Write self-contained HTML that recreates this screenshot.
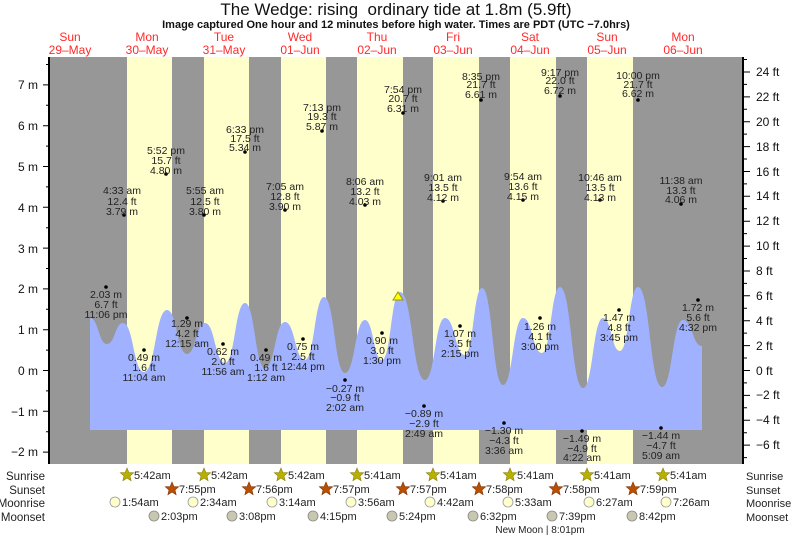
<!DOCTYPE html>
<html><head><meta charset="utf-8"><style>
html,body{margin:0;padding:0;background:#fff;}
svg{display:block;font-family:"Liberation Sans",Arial,sans-serif;}
</style></head><body>
<svg width="793" height="538" viewBox="0 0 793 538" xmlns="http://www.w3.org/2000/svg">
<text x="396" y="15" font-size="17" text-anchor="middle" fill="#111">The Wedge: rising&#160; ordinary tide at 1.8m (5.9ft)</text>
<text x="396" y="28" font-size="11" font-weight="bold" text-anchor="middle" fill="#111">Image captured One hour and 12 minutes before high water. Times are PDT (UTC −7.0hrs)</text>
<g font-size="12" fill="#ff2a2a" text-anchor="middle">
<text x="70" y="41">Sun</text><text x="70" y="54">29–May</text>
<text x="147" y="41">Mon</text><text x="147" y="54">30–May</text>
<text x="224" y="41">Tue</text><text x="224" y="54">31–May</text>
<text x="300" y="41">Wed</text><text x="300" y="54">01–Jun</text>
<text x="377" y="41">Thu</text><text x="377" y="54">02–Jun</text>
<text x="453" y="41">Fri</text><text x="453" y="54">03–Jun</text>
<text x="530" y="41">Sat</text><text x="530" y="54">04–Jun</text>
<text x="607" y="41">Sun</text><text x="607" y="54">05–Jun</text>
<text x="683" y="41">Mon</text><text x="683" y="54">06–Jun</text>
</g>
<rect x="49" y="57" width="694" height="407" fill="#979797"/>
<g fill="#ffffcc">
<rect x="127" y="57" width="45" height="407"/><rect x="204" y="57" width="45" height="407"/>
<rect x="281" y="57" width="45" height="407"/><rect x="357" y="57" width="46" height="407"/>
<rect x="433" y="57" width="46" height="407"/><rect x="510" y="57" width="46" height="407"/>
<rect x="587" y="57" width="46" height="407"/>
</g>
<path fill="#9fb1ff" d="M90,318 C98.5,318 98.5,344 107,344 C115,344 115,323 123,323 C133.5,323 133.5,372 144,372 C155.5,372 155.5,310 167,310 C177,310 177,354 187,354 C196,354 196,323 205,323 C215,323 215,363 225,363 C235,363 235,303 245,303 C255,303 255,368 265,368 C275,368 275,322 285,322 C295,322 295,360 305,360 C314.5,360 314.5,297 324,297 C334.5,297 334.5,373 345,373 C355,373 355,320 365,320 C373.5,320 373.5,360 382,360 C391,360 391,292 400,292 C412.5,292 412.5,380 425,380 C435,380 435,318 445,318 C455,318 455,355 465,355 C473.5,355 473.5,288 482,288 C492.5,288 492.5,385 503,385 C513,385 513,318 523,318 C532.5,318 532.5,353 542,353 C551,353 551,287 560,287 C571.5,287 571.5,388 583,388 C593,388 593,318 603,318 C611.5,318 611.5,351 620,351 C629,351 629,287 638,287 C650,287 650,387 662,387 C672.5,387 672.5,320 683,320 C692.5,320 692.5,346 702,346 L702,430 L90,430 Z"/>
<polygon points="398,292 393,300 403,300" fill="#ffff00" stroke="#999900" stroke-width="1"/>
<g stroke="#000" stroke-width="1" fill="none">
<path d="M49,57 V464" stroke-width="2"/>
<path d="M743,57 V464" stroke-width="2"/>
<path d="M43,84.9H49M43,125.7H49M43,166.5H49M43,207.3H49M43,248.1H49M43,288.9H49M43,329.7H49M43,370.5H49M43,411.3H49M43,452.1H49"/>
<path d="M46,64.5H49M46,105.3H49M46,146.1H49M46,186.9H49M46,227.7H49M46,268.5H49M46,309.3H49M46,350.1H49M46,390.9H49M46,431.7H49"/>
<path d="M743,72H750M743,96.9H750M743,121.7H750M743,146.6H750M743,171.5H750M743,196.3H750M743,221.2H750M743,246.1H750M743,271H750M743,295.8H750M743,320.7H750M743,345.6H750M743,370.5H750M743,395.4H750M743,420.3H750M743,445.1H750"/>
<path d="M743,59.5H747M743,84.4H747M743,109.3H747M743,134.1H747M743,159H747M743,183.9H747M743,208.8H747M743,233.6H747M743,258.5H747M743,283.4H747M743,308.2H747M743,333.1H747M743,358H747M743,382.9H747M743,407.8H747M743,432.7H747M743,457.6H747"/>
</g>
<g font-size="12" fill="#111" text-anchor="end">
<text x="38" y="89">7 m</text><text x="38" y="130">6 m</text><text x="38" y="171">5 m</text><text x="38" y="212">4 m</text><text x="38" y="253">3 m</text><text x="38" y="293">2 m</text><text x="38" y="334">1 m</text><text x="38" y="375">0 m</text><text x="38" y="416">−1 m</text><text x="38" y="456">−2 m</text>
</g>
<g font-size="12" fill="#111">
<text x="756" y="76">24 ft</text><text x="756" y="101">22 ft</text><text x="756" y="126">20 ft</text><text x="756" y="151">18 ft</text><text x="756" y="176">16 ft</text><text x="756" y="200">14 ft</text><text x="756" y="225">12 ft</text><text x="756" y="250">10 ft</text><text x="756" y="275">8 ft</text><text x="756" y="300">6 ft</text><text x="756" y="325">4 ft</text><text x="756" y="350">2 ft</text><text x="756" y="375">0 ft</text><text x="756" y="399">−2 ft</text><text x="756" y="424">−4 ft</text><text x="756" y="449">−6 ft</text>
</g>
<g fill="#000">
<circle cx="106" cy="287" r="1.8"/><circle cx="144" cy="350" r="1.8"/><circle cx="124" cy="215" r="1.8"/><circle cx="166" cy="174" r="1.8"/>
<circle cx="187" cy="318" r="1.8"/><circle cx="204" cy="215" r="1.8"/><circle cx="245" cy="152" r="1.8"/><circle cx="223" cy="344" r="1.8"/>
<circle cx="266" cy="350" r="1.8"/><circle cx="285" cy="210" r="1.8"/><circle cx="322" cy="131" r="1.8"/><circle cx="303" cy="339" r="1.8"/>
<circle cx="345" cy="380" r="1.8"/><circle cx="365" cy="205" r="1.8"/><circle cx="403" cy="113" r="1.8"/><circle cx="382" cy="333" r="1.8"/>
<circle cx="424" cy="406" r="1.8"/><circle cx="443" cy="201" r="1.8"/><circle cx="481" cy="100" r="1.8"/><circle cx="460" cy="326" r="1.8"/>
<circle cx="504" cy="423" r="1.8"/><circle cx="523" cy="200" r="1.8"/><circle cx="560" cy="96" r="1.8"/><circle cx="540" cy="318" r="1.8"/>
<circle cx="582" cy="431" r="1.8"/><circle cx="600" cy="200" r="1.8"/><circle cx="638" cy="100" r="1.8"/><circle cx="619" cy="310" r="1.8"/>
<circle cx="661" cy="428" r="1.8"/><circle cx="681" cy="204" r="1.8"/><circle cx="698" cy="300" r="1.8"/>
</g>
<g font-size="10.5" fill="#222" text-anchor="middle">
<text x="106" y="298">2.03 m<tspan x="106" y="308">6.7 ft</tspan><tspan x="106" y="318">11:06 pm</tspan></text>
<text x="144" y="361">0.49 m<tspan x="144" y="371">1.6 ft</tspan><tspan x="144" y="381">11:04 am</tspan></text>
<text x="122" y="194">4:33 am<tspan x="122" y="205">12.4 ft</tspan><tspan x="122" y="215">3.79 m</tspan></text>
<text x="166" y="154">5:52 pm<tspan x="166" y="164">15.7 ft</tspan><tspan x="166" y="174">4.80 m</tspan></text>
<text x="187" y="327">1.29 m<tspan x="187" y="337">4.2 ft</tspan><tspan x="187" y="347">12:15 am</tspan></text>
<text x="205" y="194">5:55 am<tspan x="205" y="205">12.5 ft</tspan><tspan x="205" y="215">3.80 m</tspan></text>
<text x="245" y="133">6:33 pm<tspan x="245" y="142">17.5 ft</tspan><tspan x="245" y="151">5.34 m</tspan></text>
<text x="223" y="355">0.62 m<tspan x="223" y="365">2.0 ft</tspan><tspan x="223" y="375">11:56 am</tspan></text>
<text x="266" y="361">0.49 m<tspan x="266" y="371">1.6 ft</tspan><tspan x="266" y="381">1:12 am</tspan></text>
<text x="285" y="190">7:05 am<tspan x="285" y="200">12.8 ft</tspan><tspan x="285" y="210">3.90 m</tspan></text>
<text x="322" y="111">7:13 pm<tspan x="322" y="120">19.3 ft</tspan><tspan x="322" y="130">5.87 m</tspan></text>
<text x="303" y="350">0.75 m<tspan x="303" y="360">2.5 ft</tspan><tspan x="303" y="370">12:44 pm</tspan></text>
<text x="345" y="392">−0.27 m<tspan x="345" y="401">−0.9 ft</tspan><tspan x="345" y="411">2:02 am</tspan></text>
<text x="365" y="185">8:06 am<tspan x="365" y="195">13.2 ft</tspan><tspan x="365" y="205">4.03 m</tspan></text>
<text x="403" y="93">7:54 pm<tspan x="403" y="102">20.7 ft</tspan><tspan x="403" y="112">6.31 m</tspan></text>
<text x="382" y="344">0.90 m<tspan x="382" y="354">3.0 ft</tspan><tspan x="382" y="364">1:30 pm</tspan></text>
<text x="424" y="417">−0.89 m<tspan x="424" y="427">−2.9 ft</tspan><tspan x="424" y="437">2:49 am</tspan></text>
<text x="443" y="181">9:01 am<tspan x="443" y="191">13.5 ft</tspan><tspan x="443" y="201">4.12 m</tspan></text>
<text x="481" y="80">8:35 pm<tspan x="481" y="88">21.7 ft</tspan><tspan x="481" y="98">6.61 m</tspan></text>
<text x="460" y="337">1.07 m<tspan x="460" y="347">3.5 ft</tspan><tspan x="460" y="357">2:15 pm</tspan></text>
<text x="504" y="434">−1.30 m<tspan x="504" y="444">−4.3 ft</tspan><tspan x="504" y="454">3:36 am</tspan></text>
<text x="523" y="180">9:54 am<tspan x="523" y="190">13.6 ft</tspan><tspan x="523" y="200">4.15 m</tspan></text>
<text x="560" y="76">9:17 pm<tspan x="560" y="84">22.0 ft</tspan><tspan x="560" y="94">6.72 m</tspan></text>
<text x="540" y="330">1.26 m<tspan x="540" y="340">4.1 ft</tspan><tspan x="540" y="350">3:00 pm</tspan></text>
<text x="582" y="442">−1.49 m<tspan x="582" y="452">−4.9 ft</tspan><tspan x="582" y="461">4:22 am</tspan></text>
<text x="600" y="181">10:46 am<tspan x="600" y="191">13.5 ft</tspan><tspan x="600" y="201">4.13 m</tspan></text>
<text x="638" y="79">10:00 pm<tspan x="638" y="88">21.7 ft</tspan><tspan x="638" y="97">6.62 m</tspan></text>
<text x="619" y="321">1.47 m<tspan x="619" y="331">4.8 ft</tspan><tspan x="619" y="341">3:45 pm</tspan></text>
<text x="661" y="439">−1.44 m<tspan x="661" y="449">−4.7 ft</tspan><tspan x="661" y="459">5:09 am</tspan></text>
<text x="681" y="184">11:38 am<tspan x="681" y="194">13.3 ft</tspan><tspan x="681" y="203">4.06 m</tspan></text>
<text x="698" y="311">1.72 m<tspan x="698" y="321">5.6 ft</tspan><tspan x="698" y="331">4:32 pm</tspan></text>
</g>
<defs>
<polygon id="st" points="0,-7 1.9,-2.4 6.7,-2.2 3,0.9 4.1,5.7 0,3 -4.1,5.7 -3,0.9 -6.7,-2.2 -1.9,-2.4"/>
</defs>
<g font-size="11.5" fill="#222" text-anchor="end">
<text x="45" y="480">Sunrise</text><text x="45" y="494">Sunset</text><text x="45" y="507">Moonrise</text><text x="45" y="521">Moonset</text>
</g>
<g font-size="11" fill="#222">
<text x="746" y="480">Sunrise</text><text x="746" y="494">Sunset</text><text x="746" y="507">Moonrise</text><text x="746" y="521">Moonset</text>
</g>
<g fill="#b8b000" stroke="#8a7f00" stroke-width="0.6">
<use href="#st" x="127" y="475"/><use href="#st" x="204" y="475"/><use href="#st" x="281" y="475"/><use href="#st" x="357" y="475"/><use href="#st" x="433" y="475"/><use href="#st" x="510" y="475"/><use href="#st" x="587" y="475"/><use href="#st" x="663" y="475"/>
</g>
<g fill="#b85000" stroke="#803000" stroke-width="0.6">
<use href="#st" x="172" y="489"/><use href="#st" x="249" y="489"/><use href="#st" x="326" y="489"/><use href="#st" x="403" y="489"/><use href="#st" x="479" y="489"/><use href="#st" x="556" y="489"/><use href="#st" x="633" y="489"/>
</g>
<g fill="#ffffcc" stroke="#999" stroke-width="0.8">
<circle cx="115" cy="502" r="5"/><circle cx="193" cy="502" r="5"/><circle cx="272" cy="502" r="5"/><circle cx="351" cy="502" r="5"/><circle cx="430" cy="502" r="5"/><circle cx="508" cy="502" r="5"/><circle cx="589" cy="502" r="5"/><circle cx="666" cy="502" r="5"/>
</g>
<g fill="#c8c8b0" stroke="#888" stroke-width="0.8">
<circle cx="154" cy="516" r="5"/><circle cx="232" cy="516" r="5"/><circle cx="313" cy="516" r="5"/><circle cx="392" cy="516" r="5"/><circle cx="473" cy="516" r="5"/><circle cx="552" cy="516" r="5"/><circle cx="632" cy="516" r="5"/>
</g>
<g font-size="11" fill="#222">
<text x="134" y="479">5:42am</text><text x="211" y="479">5:42am</text><text x="288" y="479">5:42am</text><text x="364" y="479">5:41am</text><text x="440" y="479">5:41am</text><text x="517" y="479">5:41am</text><text x="594" y="479">5:41am</text><text x="670" y="479">5:41am</text>
<text x="179" y="493">7:55pm</text><text x="256" y="493">7:56pm</text><text x="333" y="493">7:57pm</text><text x="410" y="493">7:57pm</text><text x="486" y="493">7:58pm</text><text x="563" y="493">7:58pm</text><text x="640" y="493">7:59pm</text>
<text x="122" y="506">1:54am</text><text x="200" y="506">2:34am</text><text x="279" y="506">3:14am</text><text x="358" y="506">3:56am</text><text x="437" y="506">4:42am</text><text x="515" y="506">5:33am</text><text x="596" y="506">6:27am</text><text x="673" y="506">7:26am</text>
<text x="161" y="520">2:03pm</text><text x="239" y="520">3:08pm</text><text x="320" y="520">4:15pm</text><text x="399" y="520">5:24pm</text><text x="480" y="520">6:32pm</text><text x="559" y="520">7:39pm</text><text x="639" y="520">8:42pm</text>
</g>
<text x="540" y="533" font-size="10" fill="#222" text-anchor="middle">New Moon | 8:01pm</text>
</svg>
</body></html>
